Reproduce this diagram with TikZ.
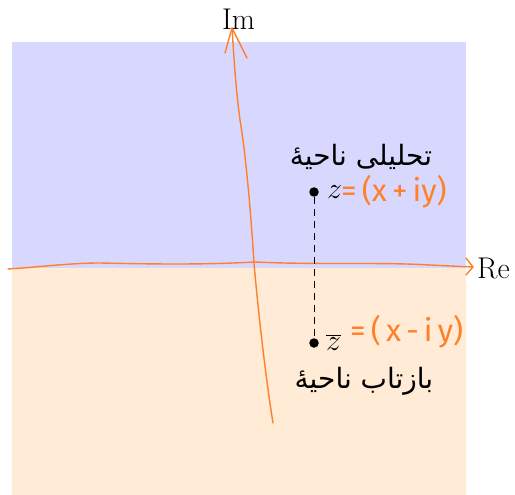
\RequirePackage{fix-cm}
\documentclass[tikz,border=0pt]{standalone}
\usepackage{fontspec}
\TeXXeTstate=1
\newfontfamily\arabicfont[Script=Arabic]{DejaVu Sans}
\newfontfamily\handfont{Fira Sans}
\definecolor{regblue}{RGB}{216,216,255}
\definecolor{regpeach}{RGB}{255,235,214}
\definecolor{handc}{RGB}{255,128,40}
\begin{document}
\begin{tikzpicture}[x=1pt,y=-1pt,
  axis/.style={handc, line width=1.4pt, line cap=round, line join=round},
  lab/.style={inner sep=0pt, font=\fontsize{30}{36}\selectfont},
  arab/.style={inner sep=0pt, font=\fontsize{28}{34}\selectfont},
  hand/.style={inner sep=0pt, text=handc, font=\handfont\fontsize{31}{36}\selectfont},
  pt/.style={circle, fill=black, inner sep=0pt, minimum size=9.5pt}]
\useasboundingbox (0,0) rectangle (515,495);
\fill[regblue] (12,42) rectangle (466,268);
\fill[regpeach] (12,268) rectangle (466,495);
% real axis
\coordinate (hs) at (8,269);
\coordinate (he) at (473,267);
\coordinate (hb1) at (466,258);
\coordinate (hb2) at (466,275);
\draw[axis] (hs) .. controls (40,267) and (70,263) .. (100,263)
  .. controls (150,264) and (200,265) .. (255,262)
  .. controls (320,265) and (380,262) .. (430,265)
  .. controls (450,266) .. (he);
\draw[axis] (hb1) -- (he) -- (hb2);
% imaginary axis
\coordinate (vs) at (273,423);
\coordinate (ve) at (232,28);
\coordinate (vb1) at (225,53);
\coordinate (vb2) at (247,58);
\draw[axis] (vs) .. controls (266,380) and (258,310) .. (254,263)
  .. controls (250,200) and (245,150) .. (240,120)
  .. controls (236,90) and (234,60) .. (ve);
\draw[axis] (vb1) -- (ve) -- (vb2);
\node[lab, anchor=base] (im) at (238.5,30) {Im};
\node[lab, anchor=base west] (re) at (477,278) {Re};
\node[pt] (z) at (314,192) {};
\node[pt] (zb) at (314,343) {};
\draw[dash pattern=on 7pt off 5pt, line width=0.8pt] (z) -- (zb);
\node[lab, anchor=base west] (zl) at (327,199) {$z$};
\node[lab, anchor=base west] (zbl) at (326,350) {$\overline{z}$};
\node[hand, anchor=base west] (ze) at (341,201) {=\,(x\,+\,iy)};
\node[hand, anchor=base west] (zbe) at (350,341) {=\,(\,x\,-\,i\,y)};
\node[arab] (t1) at (361,157) {\arabicfont\beginR تحلیلی ناحیهٔ\endR};
\node[arab] (t2) at (364,381) {\arabicfont\beginR بازتاب ناحیهٔ\endR};
\end{tikzpicture}
\end{document}
